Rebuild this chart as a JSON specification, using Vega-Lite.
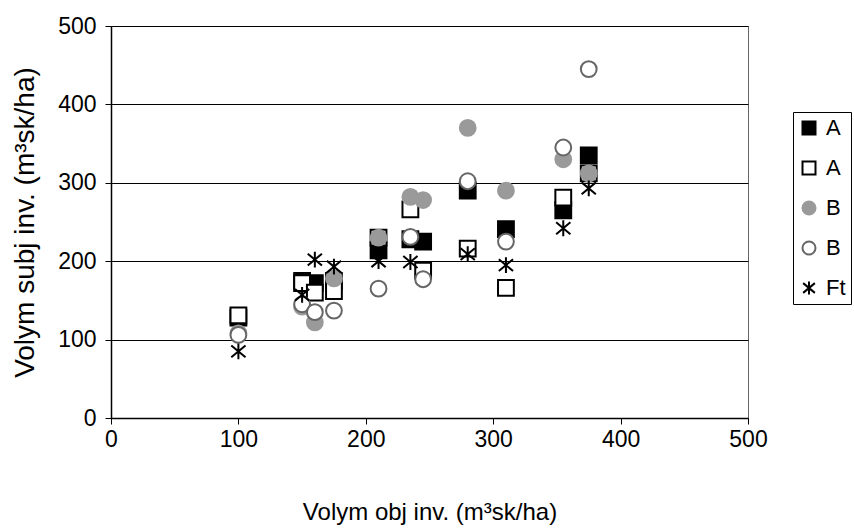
{
  "$schema": "https://vega.github.io/schema/vega-lite/v6.json",
  "width": 637,
  "height": 392,
  "autosize": {"type": "none"},
  "padding": {"left": 111, "top": 26, "right": 106, "bottom": 111},
  "background": "white",
  "config": {"font": "Liberation Sans", "view": {"stroke": "#666666", "strokeWidth": 1}},
  "data": {"values": [
    {"x": 100, "y": 128, "s": "A1"}, {"x": 150, "y": 175, "s": "A1"}, {"x": 160, "y": 172, "s": "A1"}, {"x": 175, "y": 175, "s": "A1"},
    {"x": 210, "y": 214, "s": "A1"}, {"x": 235, "y": 228, "s": "A1"}, {"x": 245, "y": 225, "s": "A1"}, {"x": 280, "y": 290, "s": "A1"},
    {"x": 310, "y": 241, "s": "A1"}, {"x": 355, "y": 265, "s": "A1"}, {"x": 375, "y": 335, "s": "A1"},
    {"x": 100, "y": 131, "s": "A2"}, {"x": 150, "y": 172, "s": "A2"}, {"x": 160, "y": 160, "s": "A2"}, {"x": 175, "y": 162, "s": "A2"},
    {"x": 210, "y": 230, "s": "A2"}, {"x": 235, "y": 266, "s": "A2"}, {"x": 245, "y": 188, "s": "A2"}, {"x": 280, "y": 216, "s": "A2"},
    {"x": 310, "y": 166, "s": "A2"}, {"x": 355, "y": 281, "s": "A2"}, {"x": 375, "y": 312, "s": "A2"},
    {"x": 100, "y": 108, "s": "B1"}, {"x": 150, "y": 142, "s": "B1"}, {"x": 160, "y": 122, "s": "B1"}, {"x": 175, "y": 178, "s": "B1"},
    {"x": 210, "y": 230, "s": "B1"}, {"x": 235, "y": 282, "s": "B1"}, {"x": 245, "y": 278, "s": "B1"}, {"x": 280, "y": 370, "s": "B1"},
    {"x": 310, "y": 290, "s": "B1"}, {"x": 355, "y": 330, "s": "B1"}, {"x": 375, "y": 312, "s": "B1"},
    {"x": 100, "y": 106, "s": "B2"}, {"x": 150, "y": 145, "s": "B2"}, {"x": 160, "y": 135, "s": "B2"}, {"x": 175, "y": 137, "s": "B2"},
    {"x": 210, "y": 165, "s": "B2"}, {"x": 235, "y": 231, "s": "B2"}, {"x": 245, "y": 177, "s": "B2"}, {"x": 280, "y": 302, "s": "B2"},
    {"x": 310, "y": 225, "s": "B2"}, {"x": 355, "y": 345, "s": "B2"}, {"x": 375, "y": 445, "s": "B2"},
    {"x": 100, "y": 85, "s": "Ft"}, {"x": 150, "y": 157, "s": "Ft"}, {"x": 160, "y": 202, "s": "Ft"}, {"x": 175, "y": 193, "s": "Ft"},
    {"x": 210, "y": 200, "s": "Ft"}, {"x": 235, "y": 199, "s": "Ft"}, {"x": 280, "y": 209, "s": "Ft"}, {"x": 310, "y": 195, "s": "Ft"},
    {"x": 355, "y": 242, "s": "Ft"}, {"x": 375, "y": 293, "s": "Ft"}
  ]},
  "mark": {"type": "point", "opacity": 1, "strokeWidth": 2, "size": 250},
  "encoding": {
    "x": {
      "field": "x", "type": "quantitative",
      "scale": {"domain": [0, 500], "nice": false},
      "axis": {
        "values": [0, 100, 200, 300, 400, 500], "grid": false,
        "title": "Volym obj inv. (m³sk/ha)", "titleFontSize": 24, "titleFontWeight": "normal", "titleColor": "black", "titlePadding": 49,
        "labelFontSize": 23, "labelColor": "black", "labelPadding": 4, "labelFlush": false,
        "tickSize": 6, "tickColor": "black", "domainColor": "black", "domainWidth": 1.5
      }
    },
    "y": {
      "field": "y", "type": "quantitative",
      "scale": {"domain": [0, 500], "nice": false},
      "axis": {
        "values": [0, 100, 200, 300, 400, 500], "grid": true, "gridColor": "black", "gridWidth": 1.2, "gridOpacity": 1,
        "title": "Volym subj inv. (m³sk/ha)", "titleFontSize": 28, "titleFontWeight": "normal", "titleColor": "black", "titlePadding": 18,
        "labelFontSize": 23, "labelColor": "black", "labelPadding": 9, "labelFlush": false,
        "tickSize": 6, "tickColor": "black", "domainColor": "black", "domainWidth": 1.5
      }
    },
    "shape": {
      "field": "s", "type": "nominal",
      "scale": {"domain": ["A1", "A2", "B1", "B2", "Ft"], "range": ["square", "square", "circle", "circle", "M0,-1L0,1M-0.9,-0.75L0.9,0.75M-0.9,0.75L0.9,-0.75"]},
      "legend": {
        "orient": "none", "legendX": 682, "legendY": 86, "title": null,
        "labelFontSize": 22, "labelColor": "black", "symbolSize": 169, "symbolStrokeWidth": 2,
        "strokeColor": "black", "padding": 5, "rowPadding": 18, "labelOffset": 6,
        "labelExpr": "datum.value == 'Ft' ? 'Ft' : slice(datum.value, 0, 1)"
      }
    },
    "fill": {
      "field": "s", "type": "nominal",
      "scale": {"domain": ["A1", "A2", "B1", "B2", "Ft"], "range": ["black", "white", "#9a9a9a", "white", "transparent"]}
    },
    "stroke": {
      "field": "s", "type": "nominal",
      "scale": {"domain": ["A1", "A2", "B1", "B2", "Ft"], "range": ["black", "black", "#9a9a9a", "#666666", "black"]}
    }
  }
}
